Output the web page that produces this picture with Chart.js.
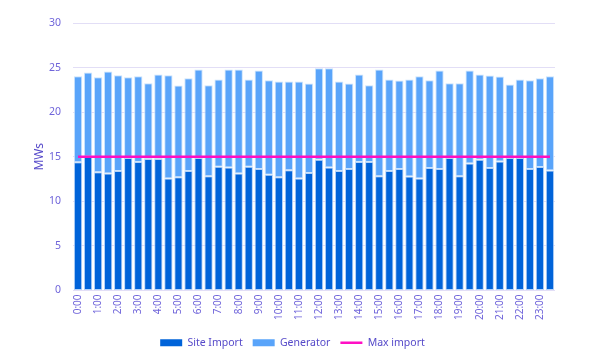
<!DOCTYPE html>
<html>
<head>
<meta charset="utf-8">
<script src="https://cdn.jsdelivr.net/npm/chart.js@4/dist/chart.umd.min.js"></script>
<style>
  html, body { margin: 0; padding: 0; background: #ffffff; }
  #wrap { width: 602px; height: 355px; }
</style>
</head>
<body>
<div id="wrap"><canvas id="c" width="602" height="355"></canvas></div>
<script>
const categories = [
  "0:00","0:30","1:00","1:30","2:00","2:30","3:00","3:30","4:00","4:30","5:00","5:30",
  "6:00","6:30","7:00","7:30","8:00","8:30","9:00","9:30","10:00","10:30","11:00","11:30",
  "12:00","12:30","13:00","13:30","14:00","14:30","15:00","15:30","16:00","16:30","17:00","17:30",
  "18:00","18:30","19:00","19:30","20:00","20:30","21:00","21:30","22:00","22:30","23:00","23:30"
];
const siteImport = [
  14.37,15.00,13.25,13.13,13.40,14.85,14.40,14.74,14.74,12.57,12.69,13.40,
  14.85,12.80,13.88,13.80,13.13,13.88,13.62,12.99,12.69,13.50,12.57,13.17,
  14.66,13.80,13.40,13.62,14.40,14.40,12.80,13.40,13.62,12.78,12.57,13.73,
  13.62,14.85,12.80,14.25,14.66,13.73,14.48,14.85,14.85,13.62,13.84,13.47
];
const generator = [
  9.66,9.44,10.67,11.42,10.74,9.07,9.63,8.51,9.48,11.57,10.30,10.41,
  9.93,10.22,9.78,10.98,11.65,9.78,11.04,10.59,10.74,9.93,10.86,10.04,
  10.27,11.13,10.03,9.59,9.82,8.62,11.98,10.26,9.92,10.88,11.46,9.85,
  11.04,8.40,10.45,10.41,9.56,10.37,9.51,8.25,8.81,9.96,9.97,10.56
];
const maxImport = [
  15,15,15,15,15,15,15,15,15,15,15,15,15,15,15,15,15,15,15,15,15,15,15,15,
  15,15,15,15,15,15,15,15,15,15,15,15,15,15,15,15,15,15,15,15,15,15,15,15
];
const yTicks = [0, 5, 10, 15, 20, 25, 30];
const seriesNames = ["Site Import", "Generator", "Max import"];
const yTitle = "MWs";

const FONT = "'Noto Sans', 'Open Sans', sans-serif";
const TICK_COLOR = "#6f64da";
const TEXT_COLOR = "#5549c9";

new Chart(document.getElementById('c'), {
  data: {
    labels: categories,
    datasets: [
      {
        type: 'bar', label: seriesNames[0], data: siteImport,
        backgroundColor: '#0063d9', borderColor: 'rgba(175,208,248,0.95)', borderWidth: 1,
        borderSkipped: false, order: 1,
        categoryPercentage: 0.92, barPercentage: 0.9
      },
      {
        type: 'bar', label: seriesNames[1], data: generator,
        backgroundColor: '#59a4fa', borderColor: 'rgba(200,225,252,0.95)', borderWidth: 1,
        borderSkipped: false, order: 1,
        categoryPercentage: 0.92, barPercentage: 0.9
      },
      {
        type: 'line', label: seriesNames[2], data: maxImport, stack: 'max',
        borderColor: '#ff0fc4', backgroundColor: '#ff0fc4', borderWidth: 2.5,
        pointRadius: 0, pointHoverRadius: 0, fill: false, order: 0, tension: 0
      }
    ]
  },
  options: {
    responsive: false,
    animation: false,
    devicePixelRatio: 1,
    layout: { padding: { top: 23, left: 30, right: 47, bottom: -3 } },
    plugins: {
      tooltip: { enabled: false },
      legend: {
        position: 'bottom',
        labels: {
          usePointStyle: true,
          pointStyleWidth: 22,
          boxHeight: 7,
          padding: 10,
          color: TEXT_COLOR,
          font: { family: FONT, size: 10.5 },
          sort: (a, b) => a.datasetIndex - b.datasetIndex,
          generateLabels: (chart) => {
            const items = Chart.defaults.plugins.legend.labels.generateLabels(chart);
            items.forEach(it => {
              if (it.datasetIndex === 2) {
                it.pointStyle = 'line';
                it.lineWidth = 2.5;
                it.strokeStyle = '#ff0fc4';
              } else {
                it.pointStyle = 'rect';
                it.lineWidth = 0;
                it.strokeStyle = it.fillStyle;
              }
            });
            return items;
          }
        }
      }
    },
    scales: {
      x: {
        stacked: true,
        grid: { display: false, drawTicks: false },
        border: { display: false },
        ticks: {
          autoSkip: false,
          minRotation: 90, maxRotation: 90,
          padding: 4,
          color: TICK_COLOR,
          font: { family: FONT, size: 10 },
          callback: function (value, index) { return index % 2 === 0 ? categories[index] : ''; }
        },
        afterFit: (s) => { s.height = 37; }
      },
      y: {
        stacked: true,
        min: 0, max: 30,
        afterBuildTicks: (s) => { s.ticks = yTicks.map(v => ({ value: v })); },
        grid: { color: '#e2def6', lineWidth: 1, drawTicks: false },
        border: { display: false },
        ticks: {
          padding: 12,
          color: TICK_COLOR,
          font: { family: FONT, size: 10.5 }
        },
        title: {
          display: true, text: yTitle, color: TEXT_COLOR,
          font: { family: FONT, size: 12 },
          padding: { top: 2, bottom: 2 }
        },
        afterFit: (s) => { s.width = 43; }
      }
    }
  }
});
</script>
</body>
</html>
